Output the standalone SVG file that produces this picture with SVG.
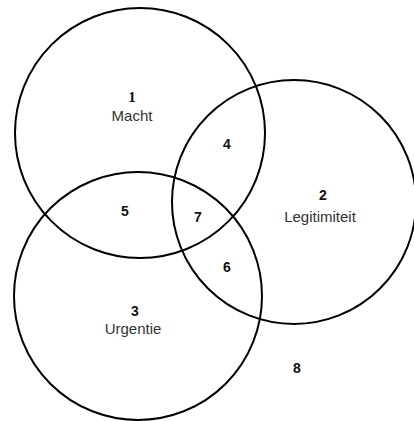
<svg xmlns="http://www.w3.org/2000/svg" width="414" height="421" viewBox="0 0 414 421">
  <style>
    .ring { fill: none; stroke: #000; stroke-width: 2; }
    .num { font-family: "Liberation Sans", Arial, sans-serif; font-weight: bold; font-size: 14px; fill: #111; text-anchor: middle; }
    .num1 { font-family: "Liberation Serif", "Times New Roman", serif; font-weight: bold; font-size: 15px; fill: #111; text-anchor: middle; }
    .name { font-family: "Liberation Sans", Arial, sans-serif; font-size: 15px; fill: #333; text-anchor: middle; }
  </style>
  <rect width="414" height="421" fill="#fff"/>
  <g id="circles">
    <circle id="macht" class="ring" cx="140" cy="133" r="125"/>
    <circle id="legitimiteit" class="ring" cx="294" cy="202" r="122"/>
    <circle id="urgentie" class="ring" cx="138" cy="296" r="124"/>
  </g>
  <g id="labels">
    <text class="num1" x="132" y="102">1</text>
    <text class="name" x="132" y="121">Macht</text>
    <text class="num" x="323" y="200">2</text>
    <text class="name" x="320" y="222">Legitimiteit</text>
    <text class="num" x="135" y="316">3</text>
    <text class="name" x="133" y="334">Urgentie</text>
    <text class="num" x="227" y="149">4</text>
    <text class="num" x="125" y="216">5</text>
    <text class="num" x="227" y="272">6</text>
    <text class="num" x="198" y="222">7</text>
    <text class="num" x="297" y="373">8</text>
  </g>
</svg>
